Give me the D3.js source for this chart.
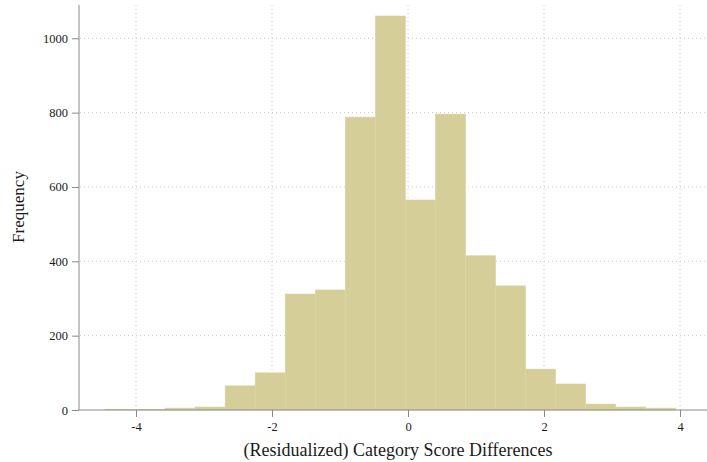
<!DOCTYPE html>
<html>
<head>
<meta charset="utf-8">
<script src="https://cdn.jsdelivr.net/npm/d3@7"></script>
<style>
  html, body { margin: 0; padding: 0; background: #fff; }
  svg { display: block; font-family: "Liberation Serif", "DejaVu Serif", serif; }
</style>
</head>
<body>
<svg id="chart" width="707" height="462"></svg>
<script>
// Histogram of residualized category score differences
const binStart = -4.456;
const binWidth = 0.4418;
const counts = [2, 1, 5, 8, 65, 100, 312, 323, 788, 1060, 565, 796, 415, 334, 110, 70, 16, 8, 5];
const xTicks = [-4, -2, 0, 2, 4];
const yTicks = [0, 200, 400, 600, 800, 1000];
const xTitle = "(Residualized) Category Score Differences";
const yTitle = "Frequency";

const bins = counts.map((c, i) => ({
  x0: binStart + i * binWidth,
  x1: binStart + (i + 1) * binWidth,
  count: c
}));

const svg = d3.select("#chart");
const plotLeft = 79, plotRight = 707, plotTop = 5, plotBottom = 410;

const x = d3.scaleLinear().domain([-4, 4]).range([136, 680]);
const y = d3.scaleLinear().domain([0, 1000]).range([plotBottom, 38.3]);

const gridColor = "#c8c8c8";
const axisColor = "#8a8a8a";
const barColor = "#d5ce99";
const textColor = "#1a1a1a";

// gridlines (behind bars)
svg.append("g").selectAll("line")
  .data(yTicks.filter(d => d > 0))
  .join("line")
  .attr("x1", plotLeft + 1).attr("x2", plotRight)
  .attr("y1", d => y(d)).attr("y2", d => y(d))
  .attr("stroke", gridColor).attr("stroke-width", 1)
  .attr("stroke-dasharray", "1,3");

svg.append("g").selectAll("line")
  .data(xTicks)
  .join("line")
  .attr("x1", d => x(d)).attr("x2", d => x(d))
  .attr("y1", plotTop).attr("y2", plotBottom)
  .attr("stroke", gridColor).attr("stroke-width", 1)
  .attr("stroke-dasharray", "1,3");

// bars
svg.append("g").selectAll("rect")
  .data(bins)
  .join("rect")
  .attr("x", d => x(d.x0))
  .attr("width", d => x(d.x1) - x(d.x0))
  .attr("y", d => y(d.count))
  .attr("height", d => y(0) - y(d.count))
  .attr("fill", barColor)
  .attr("stroke", "#d9d3a4")
  .attr("stroke-width", 0.6);

// y axis
const yAxis = d3.axisLeft(y).tickValues(yTicks).tickSize(7).tickPadding(4).tickFormat(d3.format("d"));
const gy = svg.append("g").attr("transform", `translate(${plotLeft},0)`).call(yAxis);
gy.select(".domain").remove();
gy.append("line").attr("x1", 0).attr("x2", 0).attr("y1", plotTop).attr("y2", plotBottom).attr("stroke", axisColor);
gy.selectAll(".tick line").attr("stroke", axisColor);
gy.selectAll(".tick text").attr("fill", textColor).style("font-size", "12.5px")
  .style("font-family", "'Liberation Serif', serif");

// x axis
const xAxis = d3.axisBottom(x).tickValues(xTicks).tickSize(7).tickPadding(5)
  .tickFormat(d => (d < 0 ? "-" + Math.abs(d) : String(d)));
const gx = svg.append("g").attr("transform", `translate(0,${plotBottom})`).call(xAxis);
gx.select(".domain").remove();
gx.append("line").attr("x1", plotLeft).attr("x2", plotRight).attr("y1", 0).attr("y2", 0).attr("stroke", axisColor);
gx.selectAll(".tick line").attr("stroke", axisColor);
gx.selectAll(".tick text").attr("fill", textColor).style("font-size", "12.5px")
  .style("font-family", "'Liberation Serif', serif");

// axis titles
svg.append("text")
  .attr("x", 398).attr("y", 456)
  .attr("text-anchor", "middle")
  .attr("fill", textColor)
  .style("font-size", "18px")
  .text(xTitle);

svg.append("text")
  .attr("transform", "translate(24,207) rotate(-90)")
  .attr("text-anchor", "middle")
  .attr("fill", textColor)
  .style("font-size", "17px")
  .text(yTitle);
</script>
</body>
</html>
